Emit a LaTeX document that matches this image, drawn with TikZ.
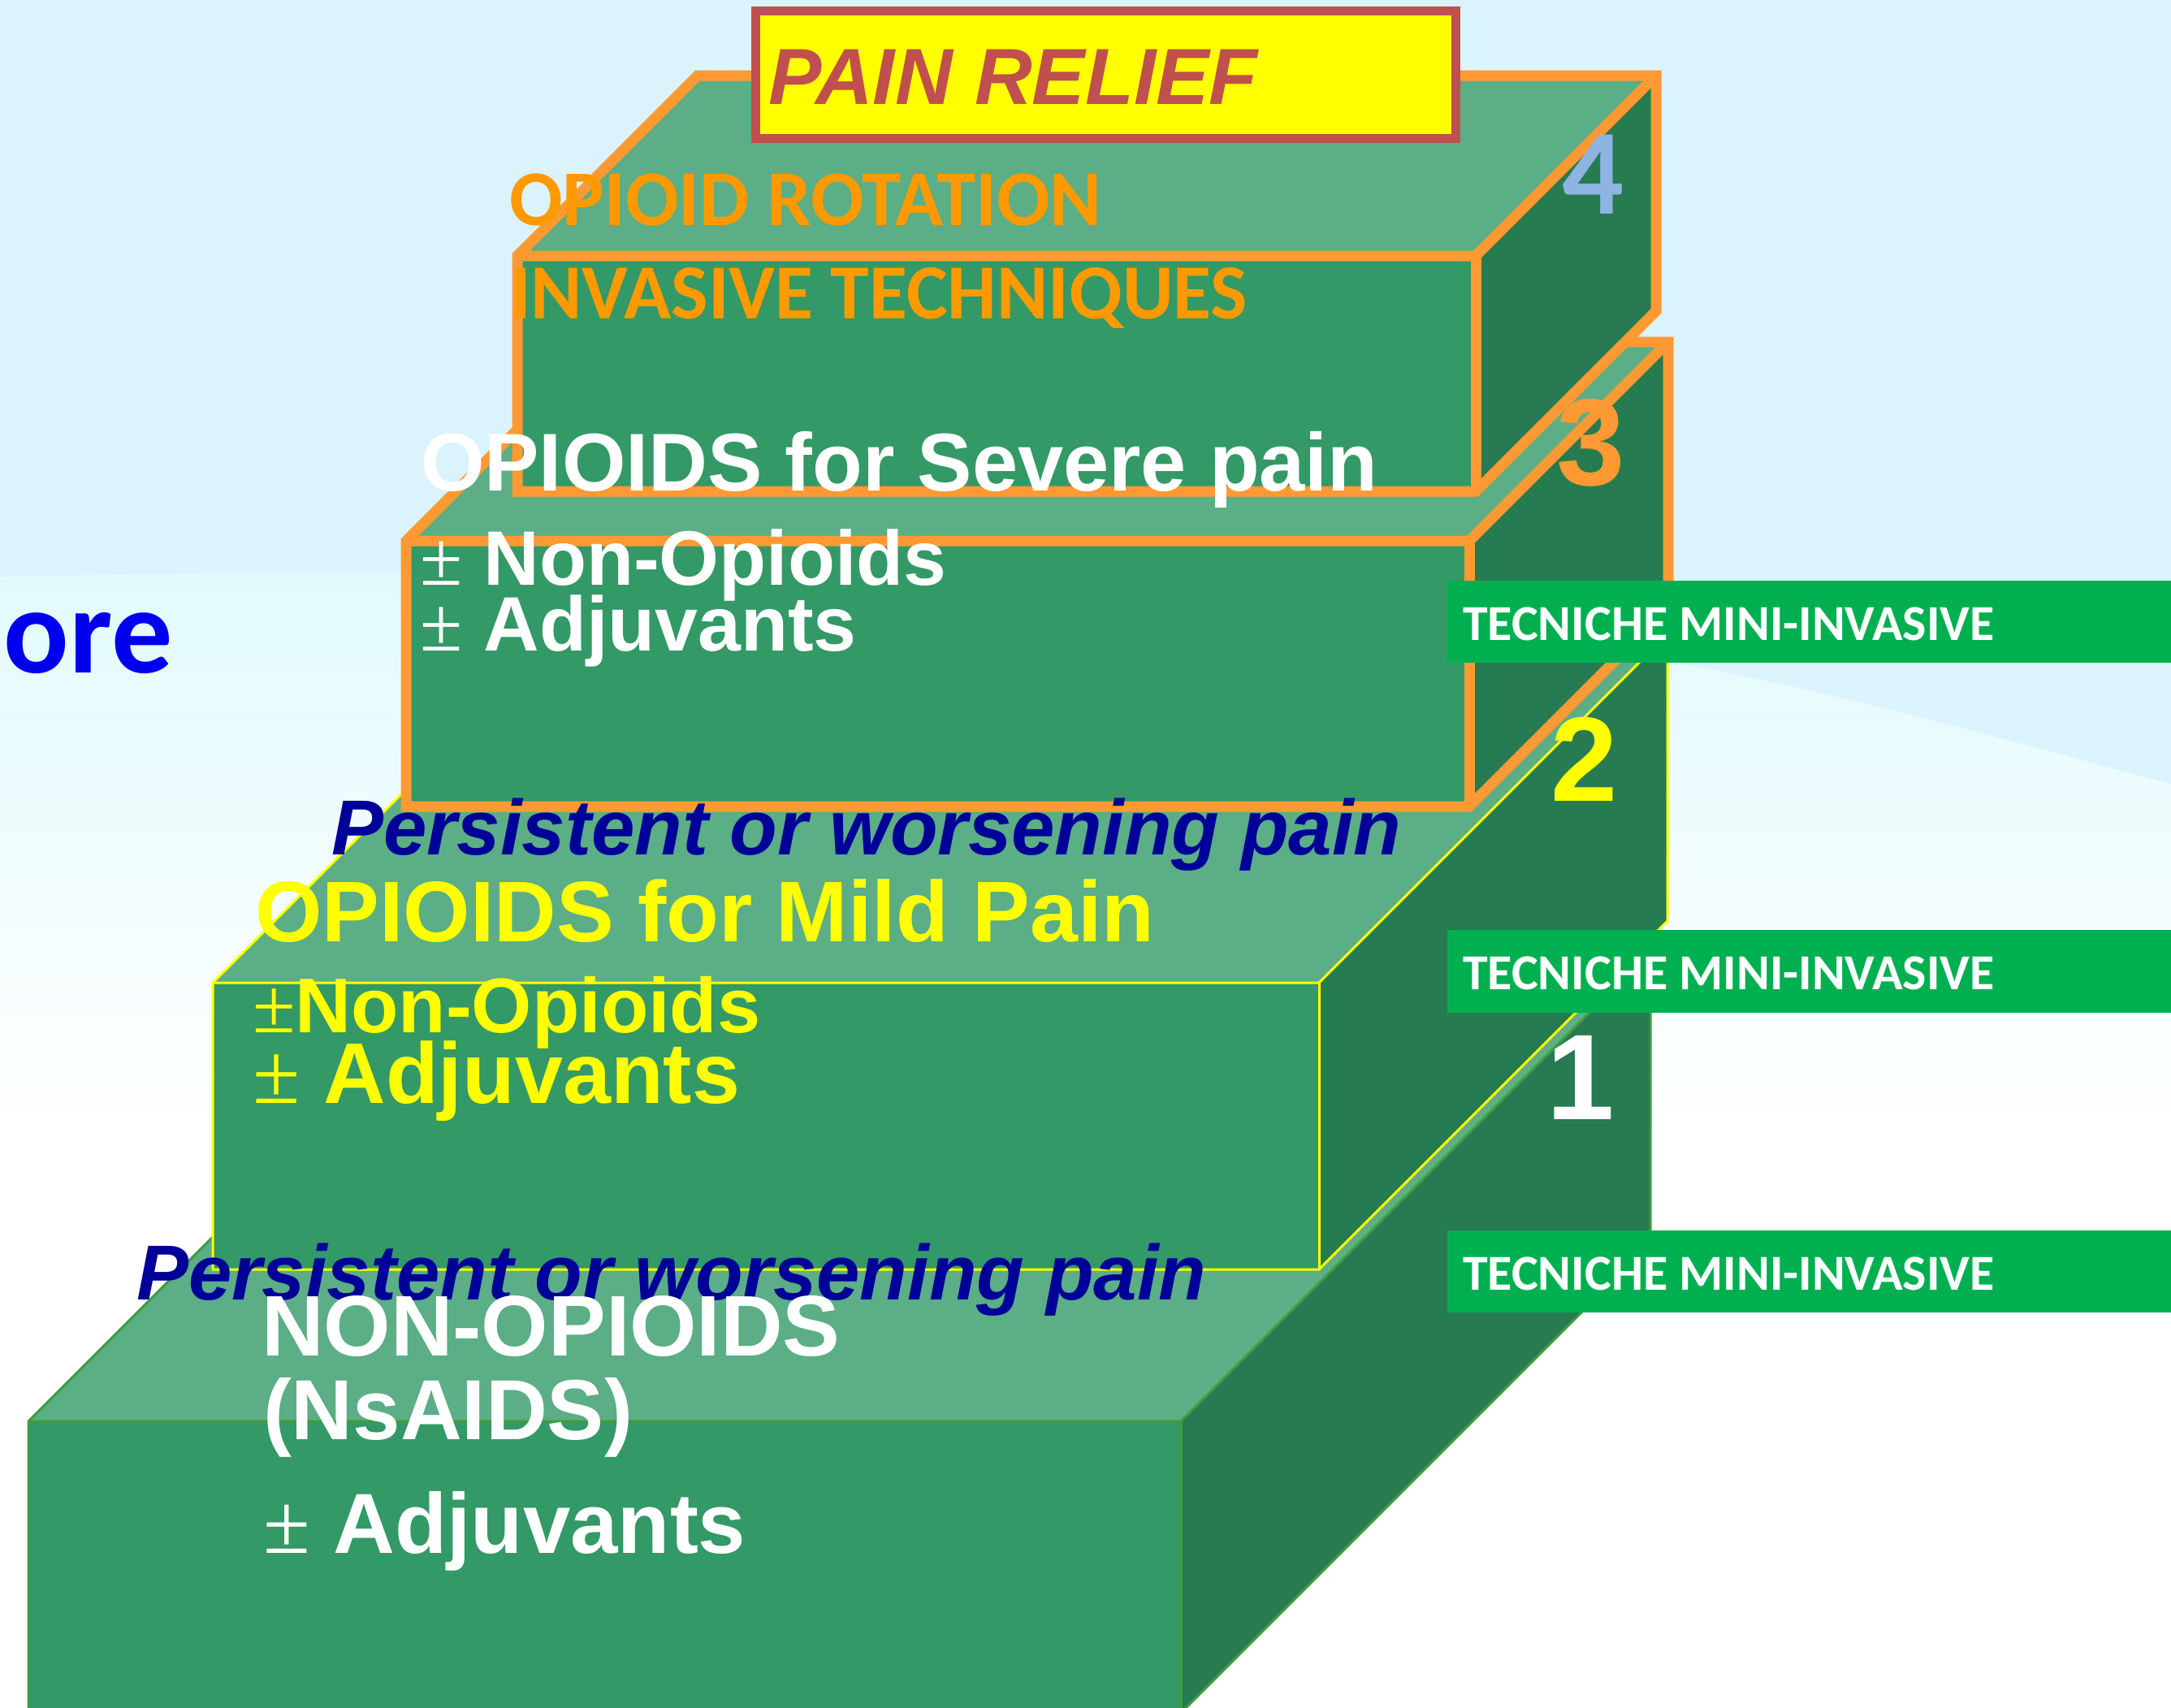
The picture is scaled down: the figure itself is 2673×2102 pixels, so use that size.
\documentclass[tikz,border=0pt]{standalone}
\usepackage{fontspec}
\setmainfont{Liberation Sans}
\newfontfamily\calfont{Carlito}
\newfontfamily\pmfont{Liberation Serif}
\definecolor{frontg}{HTML}{339966}
\definecolor{topg}{HTML}{5BAE85}
\definecolor{sideg}{HTML}{277B50}
\definecolor{orangeline}{HTML}{FF9933}
\definecolor{orangetxt}{HTML}{FF9900}
\definecolor{navy}{HTML}{000099}
\definecolor{relief}{HTML}{C0504D}
\definecolor{tecg}{HTML}{00B050}
\definecolor{bgblue}{HTML}{DBF3FD}
\definecolor{bgcyan}{HTML}{E2FAFD}
\definecolor{numblue}{HTML}{8EB4E3}
\definecolor{stepline}{HTML}{3F9B3F}
\definecolor{oreblue}{HTML}{0000EE}
\definecolor{ylw}{HTML}{FFFF00}
\newcommand\setfs[1]{\fontsize{#1}{#1}\selectfont}
\newcommand\pmsign{{\pmfont\mdseries\upshape\char"00B1}}
% #1 L, #2 T, #3 R, #4 B, #5 depth, #6 edge style
\newcommand\stepblock[6]{%
  \fill[topg] (#1,#2) -- (#3,#2) -- ({#3+#5},{#2-#5}) -- ({#1+#5},{#2-#5}) -- cycle;
  \fill[sideg] (#3,#2) -- ({#3+#5},{#2-#5}) -- ({#3+#5},{#4-#5}) -- (#3,#4) -- cycle;
  \fill[frontg] (#1,#2) rectangle (#3,#4);
  \draw[#6] (#1,#4) -- (#1,#2) -- ({#1+#5},{#2-#5}) -- ({#3+#5},{#2-#5}) -- ({#3+#5},{#4-#5}) -- (#3,#4) -- cycle;
  \draw[#6] (#1,#2) -- (#3,#2) -- ({#3+#5},{#2-#5});
  \draw[#6] (#3,#2) -- (#3,#4);
}
\tikzset{
  lbl/.style={inner sep=0pt, outer sep=0pt, anchor=base west},
  num/.style={inner sep=0pt, outer sep=0pt, anchor=base},
  tecbox/.style={fill=tecg, draw=none},
  orangeedge/.style={draw=orangeline, line width=13pt, line join=miter},
  yellowedge/.style={draw=ylw, line width=3pt, line join=miter},
  greenedge/.style={draw=stepline, line width=3pt, line join=miter},
}
\begin{document}
\begin{tikzpicture}[x=1pt,y=-1pt]
\useasboundingbox (0,0) rectangle (2673,2102);
\clip (0,0) rectangle (2673,2102);
% background
\fill[white] (0,0) rectangle (2673,2102);
\shade[top color=bgcyan, bottom color=white] (0,700) rectangle (2673,1400);
\fill[bgblue] (0,0) -- (2673,0) -- (2673,965)
  .. controls (2500,920) and (2300,860) .. (2060,815)
  .. controls (1700,740) and (900,690) .. (0,710) -- cycle;
% steps
\stepblock{35}{1750}{1454}{2109}{578}{greenedge}
\stepblock{262}{1210}{1624}{1563}{429}{yellowedge}
\stepblock{500}{666}{1809}{993}{245}{orangeedge}
\stepblock{637}{315}{1817}{605}{222}{orangeedge}
% pain relief box
\filldraw[fill=ylw, draw=relief, line width=11pt] (930,13) rectangle (1792,170);
\node[lbl, text=relief, font=\setfs{98}\bfseries\itshape] (painrelief) at (946,128) {PAIN RELIEF};
% step 4 texts
\node[lbl, text=orangetxt, font=\calfont\bfseries\setfs{97}] (rotation) at (627,277) {OPIOID ROTATION};
\node[lbl, text=orangetxt, font=\calfont\bfseries\setfs{96}] (invasive) at (628,392) {INVASIVE TECHNIQUES};
% step 3 texts
\node[lbl, text=white, font=\bfseries\setfs{101}] (severe) at (518,604) {OPIOIDS for Severe pain};
\node[lbl, text=white, font=\bfseries\setfs{95}] (nonop3) at (517,720) {\pmsign{} Non-Opioids};
\node[lbl, text=white, font=\bfseries\setfs{95}] (adj3) at (517,801) {\pmsign{} Adjuvants};
% step 2 texts
\node[lbl, text=navy, font=\bfseries\itshape\setfs{96}] (persist2) at (408,1052) {Persistent or worsening pain};
\node[lbl, text=ylw, font=\bfseries\setfs{106}] (mild) at (314,1159) {OPIOIDS for Mild Pain};
\node[lbl, text=ylw, font=\bfseries\setfs{95.5}] (nonop2) at (311,1271) {\pmsign{}Non-Opioids};
\node[lbl, text=ylw, font=\bfseries\setfs{106}] (adj2) at (311,1358) {\pmsign{} Adjuvants};
% step 1 texts
\node[lbl, text=navy, font=\bfseries\itshape\setfs{96}] (persist1) at (168,1600) {Persistent or worsening pain};
\node[lbl, text=white, font=\bfseries\setfs{106}] (nonop1) at (322,1669) {NON-OPIOIDS};
\node[lbl, text=white, font=\bfseries\setfs{105}] (nsaids) at (324,1772) {(NsAIDS)};
\node[lbl, text=white, font=\bfseries\setfs{105}] (adj1) at (324,1912) {\pmsign{} Adjuvants};
% ore
\node[lbl, text=oreblue, font=\calfont\bfseries\setfs{150}] (ore) at (5,828) {ore};
% tecniche boxes
\fill[tecbox] (1782,715) rectangle (2673,816);
\fill[tecbox] (1782,1145) rectangle (2673,1247);
\fill[tecbox] (1782,1515) rectangle (2673,1616);
\node[lbl, text=white, font=\calfont\bfseries\setfs{62}] (tec1) at (1801,788) {TECNICHE MINI-INVASIVE};
\node[lbl, text=white, font=\calfont\bfseries\setfs{62}] (tec2) at (1801,1218) {TECNICHE MINI-INVASIVE};
\node[lbl, text=white, font=\calfont\bfseries\setfs{62}] (tec3) at (1801,1588) {TECNICHE MINI-INVASIVE};
% numbers
\node[num, text=numblue, font=\calfont\bfseries\setfs{150}] (n4) at (1961,263) {4};
\node[num, text=orangeline, font=\bfseries\setfs{152}] (n3) at (1959,597) {3};
\node[num, text=ylw, font=\bfseries\setfs{148}] (n2) at (1951,986) {2};
\node[num, text=white, font=\bfseries\setfs{150}] (n1) at (1946,1378) {1};
\end{tikzpicture}
\end{document}
